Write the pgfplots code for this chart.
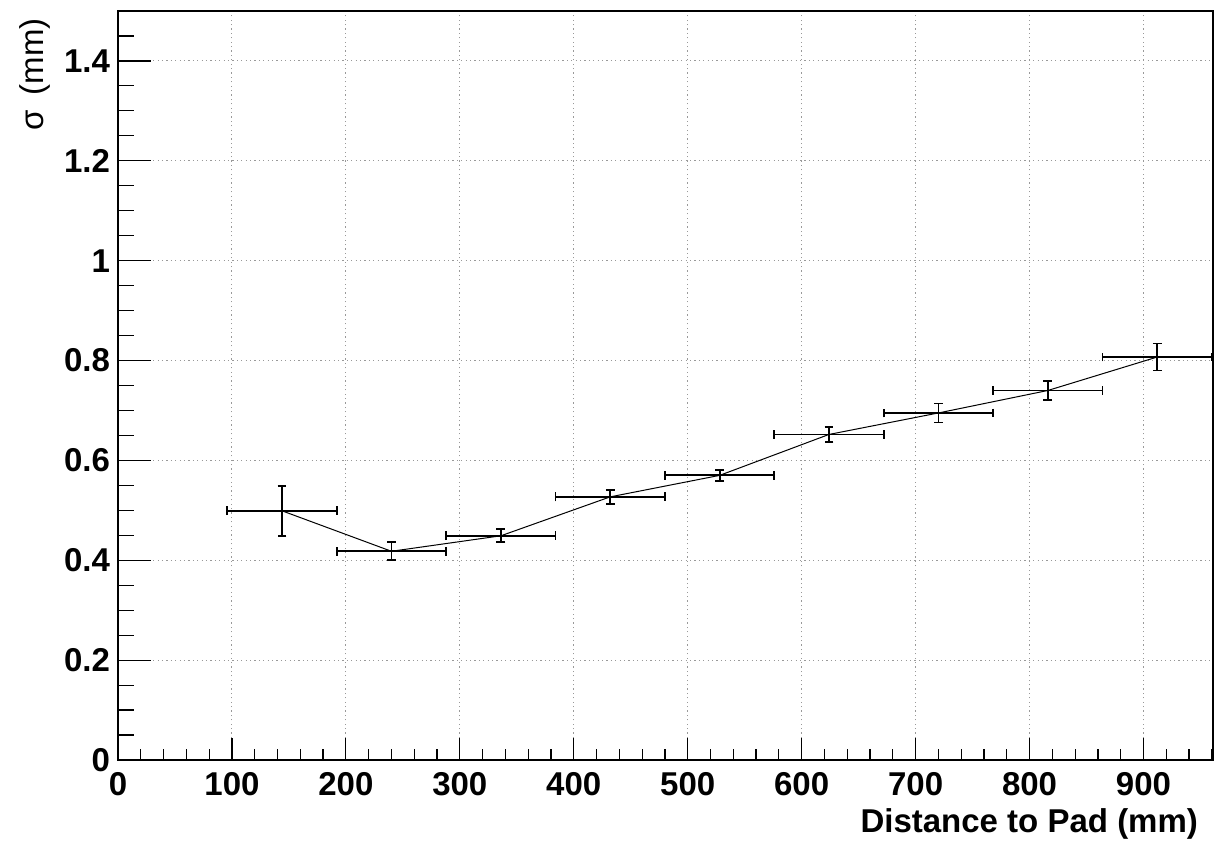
\documentclass[border=0pt]{standalone}
\usepackage{pgfplots}
\usepackage{pgfplotstable}
\pgfplotsset{compat=1.18}
\usepackage{fontspec}
\setmainfont{Liberation Sans}

% bin centre, sigma, half bin width, error on sigma
\pgfplotstableread{
x   y     ex  ey
144 0.499 48  0.050
240 0.418 48  0.018
336 0.449 48  0.013
432 0.527 48  0.014
528 0.570 48  0.011
624 0.652 48  0.015
720 0.695 48  0.019
816 0.740 48  0.019
912 0.807 48  0.027
}\sigmadata

\begin{document}
\begin{tikzpicture}
  \useasboundingbox (-59pt,-40.5pt) rectangle (548.5pt,380pt);
  \begin{axis}[
      at={(0,0)}, anchor=south west,
      scale only axis,
      width=547.5pt, height=374.5pt,
      xmin=0, xmax=961,
      ymin=0, ymax=1.5,
      xtick={0,100,...,900},
      ytick={0,0.2,0.4,0.6,0.8,1,1.2,1.4},
      minor xtick={0,20,...,960},
      minor ytick={0.05,0.1,0.15,0.25,0.3,0.35,0.45,0.5,0.55,0.65,0.7,0.75,0.85,0.9,0.95,1.05,1.1,1.15,1.25,1.3,1.35,1.45},
      xtick pos=bottom, ytick pos=left,
      tick align=inside,
      xtick style={black, line width=0.6pt, /pgfplots/major tick length=11pt, /pgfplots/minor tick length=5.5pt},
      ytick style={black, line width=0.6pt, /pgfplots/major tick length=16.5pt, /pgfplots/minor tick length=8pt},
      grid=major,
      major grid style={gray!80, line width=0.5pt, dash pattern=on 0.6pt off 1.6pt},
      axis line style={black, line width=1pt},
      /pgf/number format/assume math mode=true,
      ticklabel style={font=\fontsize{16.5}{18}\selectfont\bfseries},
      xticklabel style={anchor=base, yshift=-17.5pt},
      yticklabel style={xshift=-0.5pt},
      xlabel={Distance to Pad (mm)},
      xlabel style={at={(rel axis cs:1,0)}, anchor=base east, yshift=-36pt, xshift=-4pt,
                    font=\fontsize{16.5}{18}\selectfont\bfseries},
      ylabel={σ\, (mm)},
      ylabel style={at={([xshift=-41.5pt]rel axis cs:0,1)}, anchor=east, rotate=0,
                    font=\fontsize{16.5}{18}\selectfont},
    ]
    \addplot[black, line width=0.5pt, no markers,
      error bars/.cd,
        x dir=both, x explicit,
        y dir=both, y explicit,
        error bar style={black, line width=0.9pt},
        error mark options={black, line width=0.9pt, mark size=2.2pt, rotate=90}]
      table[x=x, y=y, x error=ex, y error=ey] {\sigmadata};
  \end{axis}
\end{tikzpicture}
\end{document}
